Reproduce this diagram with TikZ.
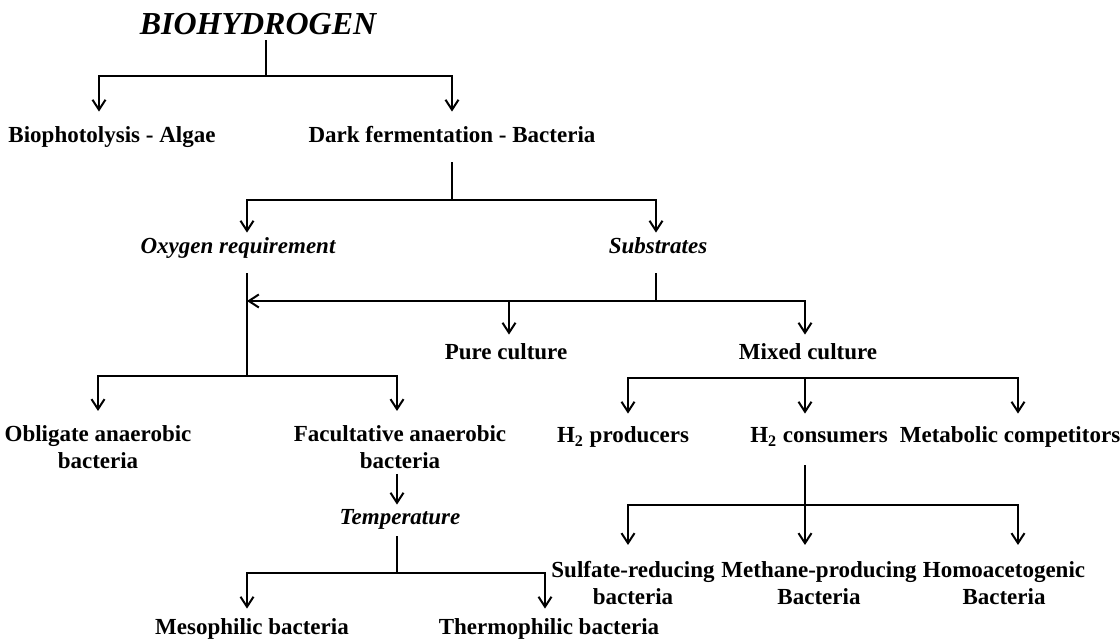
\documentclass[tikz,border=0pt]{standalone}
\usepackage{fontspec}
\setmainfont{Liberation Serif}
\usetikzlibrary{arrows.meta,positioning}
\tikzset{
lbl/.style={font=\fontsize{11.5}{13.5}\selectfont\bfseries,inner sep=0pt,anchor=base,text height=8pt,text depth=2.5pt},
ital/.style={lbl,font=\fontsize{11.5}{13.5}\selectfont\bfseries\itshape},
lbltwo/.style={font=\fontsize{11.5}{13.5}\selectfont\bfseries,inner sep=0pt,anchor=north,align=center},
toptitle/.style={font=\fontsize{16}{19}\selectfont\bfseries\itshape,inner sep=0pt,anchor=base,text depth=0pt},
link/.style={line width=1pt,black},
arr/.style={link,-{Straight Barb[length=5pt,width=6.5pt]}}
}
\begin{document}
\begin{tikzpicture}[x=0.5pt,y=-0.5pt]
\useasboundingbox (0,0) rectangle (1120,640);
\node[toptitle] (bio) at (258,35) {BIOHYDROGEN};
\node[lbl] (algae) at (112,143) {Biophotolysis - Algae};
\node[lbl] (dark) at (452,143) {Dark fermentation - Bacteria};
\node[ital] (oxy) at (238,254) {Oxygen requirement};
\node[ital] (subs) at (658,254) {Substrates};
\node[lbl] (pure) at (506,360) {Pure culture};
\node[lbl] (mixed) at (808,360) {Mixed culture};
\node[lbltwo] (obl) at (98,425) {Obligate anaerobic\\bacteria};
\node[lbltwo] (fac) at (400,425) {Facultative anaerobic\\bacteria};
\node[ital] (temp) at (400,525) {Temperature};
\node[lbl] (meso) at (252,635) {Mesophilic bacteria};
\node[lbl] (thermo) at (549,635) {Thermophilic bacteria};
\node[lbl] (hprod) at (623,443) {H\textsubscript{2} producers};
\node[lbl] (hcons) at (819,443) {H\textsubscript{2} consumers};
\node[lbl] (comp) at (1010,443) {Metabolic competitors};
\node[lbltwo] (sulf) at (633,561) {Sulfate-reducing\\bacteria};
\node[lbltwo] (meth) at (819,561) {Methane-producing\\Bacteria};
\node[lbltwo] (homo) at (1004,561) {Homoacetogenic\\Bacteria};

\coordinate (j1) at (266,76);
\coordinate (j2) at (452,200);
\coordinate (j3) at (656,301);
\coordinate (j4) at (247,376);
\coordinate (j5) at (805,378);
\coordinate (j6) at (805,505);
\coordinate (j7) at (397,573);

\draw[link,shorten <=2.5pt] ([xshift=4pt]bio.south) -- (j1);
\draw[arr,shorten >=7.5pt] (j1) -| ([xshift=-6.5pt]algae.north);
\draw[arr,shorten >=7.5pt] (j1) -| (dark.north);
\draw[link,shorten <=7pt] (dark.south) -- (j2);
\draw[arr,shorten >=2.5pt] (j2) -| ([xshift=4.5pt]oxy.north);
\draw[arr,shorten >=2.5pt] (j2) -| ([xshift=-1pt]subs.north);
\draw[link,shorten <=7pt] ([xshift=-1pt]subs.south) -- (j3);
\draw[link,shorten <=7pt] ([xshift=4.5pt]oxy.south) -- (j4);
\draw[arr] (j3) -- (j3 -| j4);
\draw[arr,shorten >=4.5pt] (j3) -| ([xshift=1.5pt]pure.north);
\draw[arr,shorten >=4.5pt] (j3) -| ([xshift=-1.5pt]mixed.north);
\draw[arr,shorten >=7pt] (j4) -| (obl.north);
\draw[arr,shorten >=7pt] (j4) -| ([xshift=-1.5pt]fac.north);
\draw[arr,shorten <=2.5pt,shorten >=2pt] ([xshift=-1.5pt]fac.south) -- ([xshift=-1.5pt]temp.north);
\draw[link,shorten <=3pt] ([xshift=-1.5pt]temp.south) -- (j7);
\draw[arr,shorten >=5pt] (j7) -| ([xshift=-2.5pt]meso.north);
\draw[arr,shorten >=5pt] (j7) -| ([xshift=-2pt]thermo.north);
\draw[arr,shorten >=6.5pt] (j5) -| ([xshift=2.5pt]hprod.north);
\draw[arr,shorten >=6.5pt] (j5) -| ([xshift=-7pt]hcons.north);
\draw[arr,shorten >=6.5pt] (j5) -| ([xshift=4pt]comp.north);
\draw[arr,shorten <=8.5pt,shorten >=8pt] ([xshift=-7pt]hcons.south) -- ([xshift=-7pt]meth.north);
\draw[arr,shorten >=8pt] (j6) -| ([xshift=-2.5pt]sulf.north);
\draw[arr,shorten >=8pt] (j6) -| ([xshift=7pt]homo.north);
\end{tikzpicture}
\end{document}
